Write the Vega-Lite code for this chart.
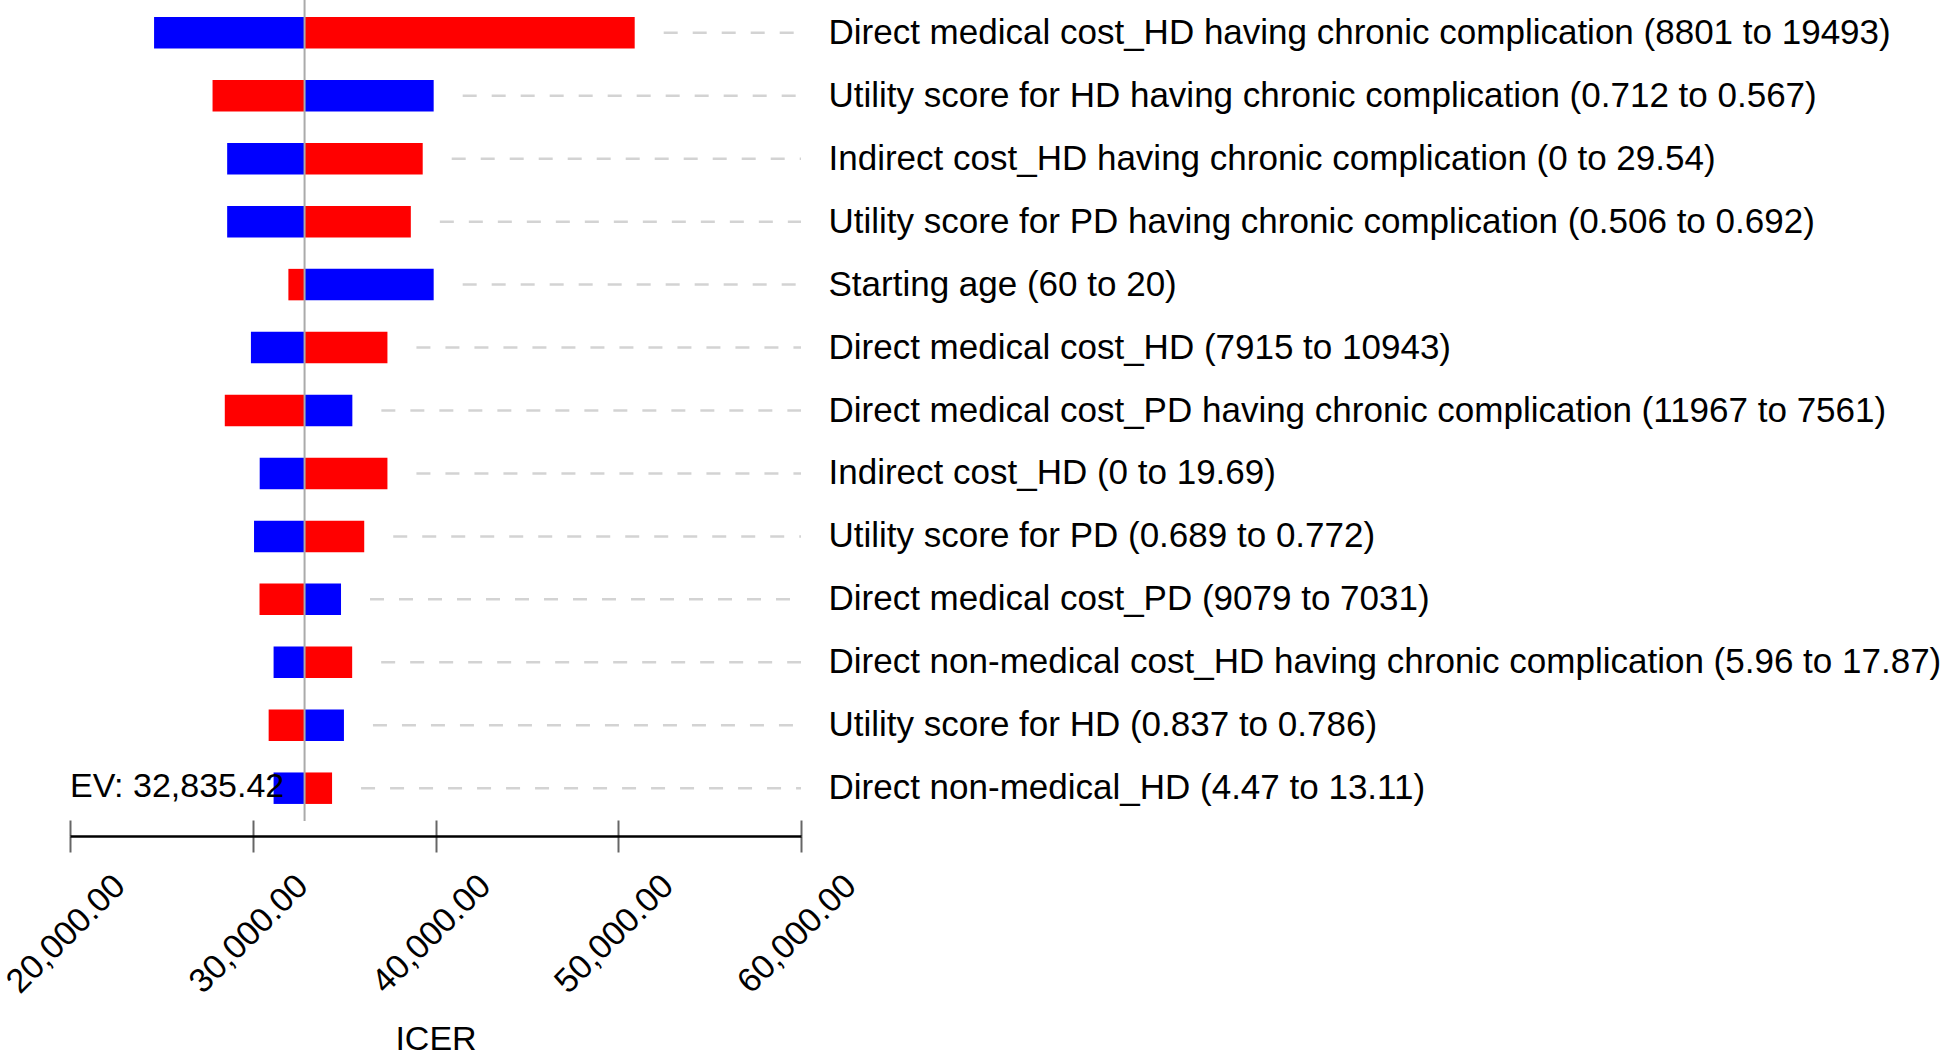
{
  "$schema": "https://vega.github.io/schema/vega-lite/v6.json",
  "width": 731,
  "height": 821,
  "autosize": {"type": "none"},
  "padding": {"left": 70, "top": 0, "right": 1143, "bottom": 234},
  "background": "white",
  "config": {
    "view": {"stroke": null},
    "font": "Liberation Sans",
    "axis": {"labelFont": "Liberation Sans", "titleFont": "Liberation Sans", "grid": false}
  },
  "datasets": {
    "rows": [
      {"param": "Direct medical cost_HD having chronic complication (8801 to 19493)", "blue": 24600, "red": 50900},
      {"param": "Utility score for HD having chronic complication (0.712 to 0.567)", "blue": 39900, "red": 27800},
      {"param": "Indirect cost_HD having chronic complication (0 to 29.54)", "blue": 28600, "red": 39300},
      {"param": "Utility score for PD having chronic complication (0.506 to 0.692)", "blue": 28600, "red": 38650},
      {"param": "Starting age (60 to 20)", "blue": 39900, "red": 31950},
      {"param": "Direct medical cost_HD (7915 to 10943)", "blue": 29900, "red": 37370},
      {"param": "Direct medical cost_PD having chronic complication (11967 to 7561)", "blue": 35450, "red": 28470},
      {"param": "Indirect cost_HD (0 to 19.69)", "blue": 30380, "red": 37370},
      {"param": "Utility score for PD (0.689 to 0.772)", "blue": 30070, "red": 36100},
      {"param": "Direct medical cost_PD (9079 to 7031)", "blue": 34830, "red": 30370},
      {"param": "Direct non-medical cost_HD having chronic complication (5.96 to 17.87)", "blue": 31140, "red": 35440},
      {"param": "Utility score for HD (0.837 to 0.786)", "blue": 34990, "red": 30870},
      {"param": "Direct non-medical_HD (4.47 to 13.11)", "blue": 31140, "red": 34340}
    ],
    "ev": [
      {"ev": 32835.42, "left": 20000, "param": "Direct non-medical_HD (4.47 to 13.11)", "label": "EV: 32,835.42"}
    ]
  },
  "resolve": {"axis": {"x": "independent"}},
  "layer": [
    {
      "data": {"name": "rows"},
      "transform": [
        {"fold": ["blue", "red"], "as": ["end", "value"]},
        {"aggregate": [{"op": "max", "field": "value", "as": "hi"}], "groupby": ["param"]}
      ],
      "mark": {"type": "rule", "strokeDash": [14, 15], "color": "#d3d3d3", "strokeWidth": 2.5, "xOffset": 29},
      "encoding": {
        "x": {
          "field": "hi", "type": "quantitative",
          "scale": {"domain": [20000, 60000], "nice": false, "zero": false},
          "axis": {"orient": "bottom", "offset": -1, "domain": false, "labels": false, "title": null, "tickSize": 16, "tickColor": "#666666", "tickWidth": 2, "values": [20000, 30000, 40000, 50000, 60000]}
        },
        "x2": {"datum": 60000},
        "y": {"field": "param", "type": "nominal"}
      }
    },
    {
      "data": {"name": "rows"},
      "transform": [{"fold": ["blue", "red"], "as": ["end", "value"]}],
      "mark": {"type": "bar"},
      "encoding": {
        "x": {
          "field": "value", "type": "quantitative",
          "scale": {"domain": [20000, 60000], "nice": false, "zero": false},
          "axis": {
            "orient": "bottom", "offset": 15,
            "domainColor": "#000000", "domainWidth": 2.5,
            "tickColor": "#666666", "tickWidth": 2, "tickSize": 16,
            "values": [20000, 30000, 40000, 50000, 60000],
            "format": ",.2f",
            "labelAngle": -45, "labelAlign": "center", "labelBaseline": "middle",
            "labelPadding": 82, "labelOffset": -4, "labelFontSize": 34, "labelColor": "#000000",
            "title": "ICER", "titleFontSize": 34, "titleFontWeight": "normal", "titleColor": "#000000",
            "titleY": 213, "titleBaseline": "alphabetic"
          }
        },
        "x2": {"datum": 32835.42},
        "y": {
          "field": "param", "type": "nominal",
          "scale": {
            "domain": [
              "Direct medical cost_HD having chronic complication (8801 to 19493)",
              "Utility score for HD having chronic complication (0.712 to 0.567)",
              "Indirect cost_HD having chronic complication (0 to 29.54)",
              "Utility score for PD having chronic complication (0.506 to 0.692)",
              "Starting age (60 to 20)",
              "Direct medical cost_HD (7915 to 10943)",
              "Direct medical cost_PD having chronic complication (11967 to 7561)",
              "Indirect cost_HD (0 to 19.69)",
              "Utility score for PD (0.689 to 0.772)",
              "Direct medical cost_PD (9079 to 7031)",
              "Direct non-medical cost_HD having chronic complication (5.96 to 17.87)",
              "Utility score for HD (0.837 to 0.786)",
              "Direct non-medical_HD (4.47 to 13.11)"
            ],
            "paddingInner": 0.5, "paddingOuter": 0.271
          },
          "axis": {"orient": "right", "domain": false, "ticks": false, "tickSize": 0, "labelPadding": 27, "labelFontSize": 35, "labelColor": "#000000", "labelLimit": 0, "title": null}
        },
        "color": {"field": "end", "type": "nominal", "scale": {"domain": ["blue", "red"], "range": ["#0000ff", "#ff0000"]}, "legend": null}
      }
    },
    {
      "data": {"name": "ev"},
      "mark": {"type": "rule", "color": "#aaaaaa", "strokeWidth": 2},
      "encoding": {
        "x": {"field": "ev", "type": "quantitative", "axis": null}
      }
    },
    {
      "data": {"name": "ev"},
      "mark": {"type": "text", "align": "left", "baseline": "alphabetic", "fontSize": 34, "font": "Liberation Sans", "color": "#000000", "dy": 9},
      "encoding": {
        "x": {"field": "left", "type": "quantitative", "axis": null},
        "y": {"field": "param", "type": "nominal"},
        "text": {"field": "label"}
      }
    }
  ]
}
